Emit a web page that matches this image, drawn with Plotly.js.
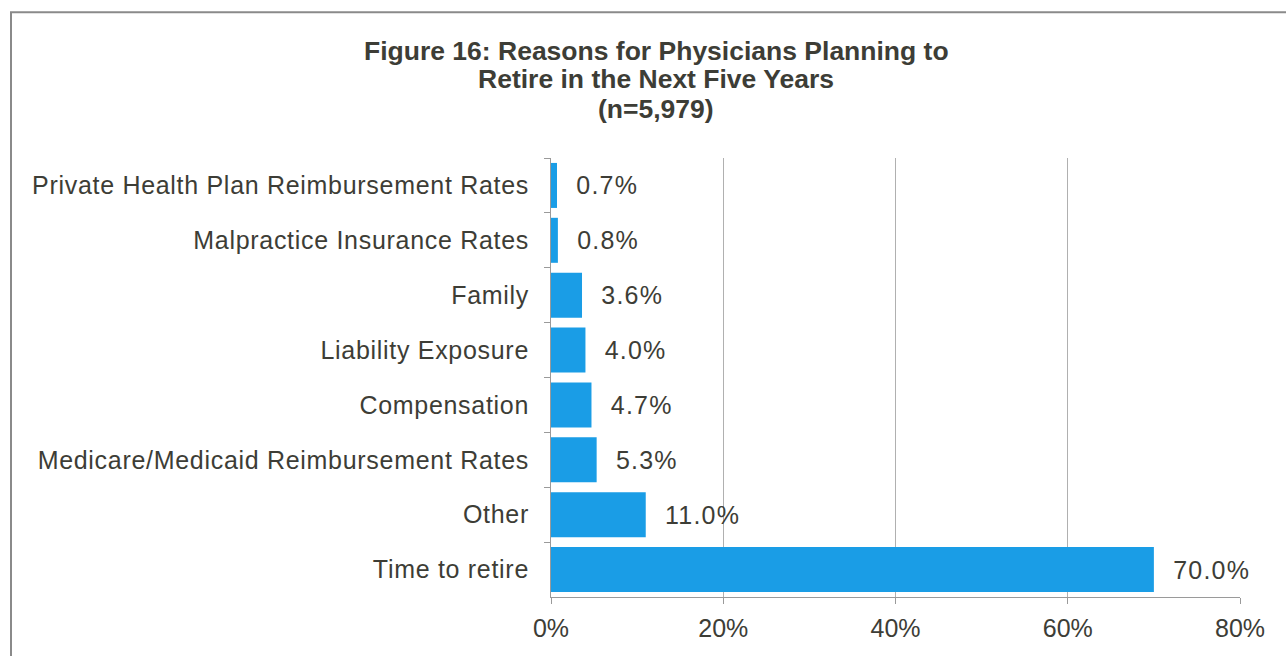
<!DOCTYPE html>
<html>
<head>
<meta charset="utf-8">
<script src="https://cdn.plot.ly/plotly-3.0.1.min.js"></script>
<style>
html,body{margin:0;padding:0;background:#fff;}
#chart{width:1286px;height:656px;}
.ytick text{letter-spacing:0.7px;}
text.bartext{letter-spacing:1.2px;}
</style>
</head>
<body>
<div id="chart"></div>
<script>
const categories = [
  "Private Health Plan Reimbursement Rates",
  "Malpractice Insurance Rates",
  "Family",
  "Liability Exposure",
  "Compensation",
  "Medicare/Medicaid Reimbursement Rates",
  "Other",
  "Time to retire"
];
const percentValues = [0.7, 0.8, 3.6, 4.0, 4.7, 5.3, 11.0, 70.0];
const xTickValues = [0, 20, 40, 60, 80];
const xTickLabels = ["0%", "20%", "40%", "60%", "80%"];
const titleLines = [
  "Figure 16: Reasons for Physicians Planning to",
  "Retire in the Next Five Years",
  "(n=5,979)"
];

const textColor = "#3d3d36";
const baseFont = "Liberation Sans, Arial, sans-serif";

const trace = {
  type: "bar",
  orientation: "h",
  y: categories,
  x: percentValues,
  marker: {color: "#1a9de6"},
  texttemplate: "\u00a0\u00a0%{x:.1f}%",
  textposition: "outside",
  cliponaxis: false,
  textfont: {family: baseFont, size: 25, color: textColor},
  hoverinfo: "skip"
};

const titleY = [1.243, 1.179, 1.111];
const annotations = titleLines.map((t, i) => ({
  text: t, showarrow: false,
  xref: "paper", x: (656 - 551) / 689, xanchor: "center",
  yref: "paper", y: titleY[i], yanchor: "middle",
  font: {family: baseFont, size: 26.5, color: textColor, weight: "bold"}
}));

const layout = {
  width: 1286, height: 656,
  margin: {l: 551, r: 46, t: 158, b: 59},
  paper_bgcolor: "#fff", plot_bgcolor: "#fff",
  showlegend: false,
  bargap: 0.18,
  annotations: annotations,
  xaxis: {
    range: [0, 80],
    tickvals: xTickValues, ticktext: xTickLabels,
    showgrid: true, gridcolor: "#b0b0b0", gridwidth: 1,
    showline: true, linecolor: "#9a9a9a", linewidth: 1,
    ticks: "outside", ticklen: 6, tickcolor: "#9a9a9a",
    ticklabelstandoff: 3,
    tickfont: {family: baseFont, size: 25, color: textColor},
    zeroline: false, fixedrange: true
  },
  yaxis: {
    type: "category",
    autorange: "reversed",
    showline: true, linecolor: "#9a9a9a", linewidth: 1,
    ticks: "outside", ticklen: 6, tickcolor: "#9a9a9a", tickson: "boundaries",
    ticklabelstandoff: 16,
    tickfont: {family: baseFont, size: 25, color: textColor},
    showgrid: false, fixedrange: true
  },
  shapes: [{
    type: "rect", xref: "paper", yref: "paper",
    x0: (11 - 551) / 689, x1: 1.2,
    y0: -0.3, y1: 1 + (158 - 12) / 439.5,
    line: {color: "#8a8a8a", width: 2}, fillcolor: "rgba(0,0,0,0)", layer: "below"
  }]
};

Plotly.newPlot("chart", [trace], layout, {staticPlot: true, displayModeBar: false});
</script>
</body>
</html>
